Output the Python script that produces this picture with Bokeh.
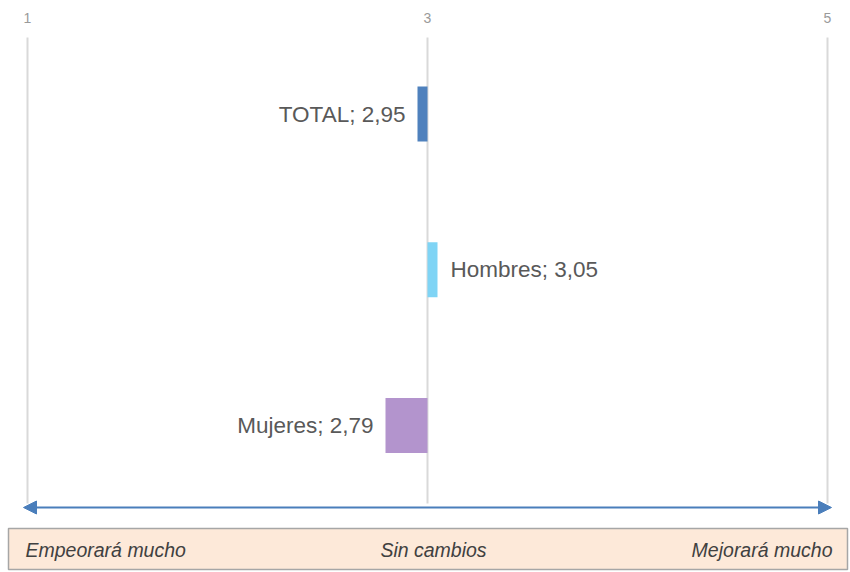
from bokeh.plotting import figure
from bokeh.models import ColumnDataSource, Arrow, NormalHead, Range1d
from bokeh.core.properties import value
from bokeh.embed import file_html
from bokeh.resources import INLINE

# ---- data ----
categories = ["TOTAL", "Hombres", "Mujeres"]
scores = [2.95, 3.05, 2.79]
colors = ["#4f81bd", "#7fd4f5", "#b394cd"]
tick_values = [1, 3, 5]
tick_labels = ["1", "3", "5"]
scale_labels = ["Empeorará mucho", "Sin cambios", "Mejorará mucho"]
midpoint = 3

W, H = 850, 572
PAGE_OFF = 0
PX_PER_UNIT_Y = 155.75
Y_TOP = 3 + (113.5 - PAGE_OFF) / PX_PER_UNIT_Y


def py(page_y):
    """page pixel y -> data y"""
    return Y_TOP - (page_y - PAGE_OFF) / PX_PER_UNIT_Y


X0 = 1 - (27 - PAGE_OFF) / 200.0
x_range = Range1d(X0, X0 + W / 200.0)
y_range = Range1d(Y_TOP - H / PX_PER_UNIT_Y, Y_TOP)

p = figure(width=W, height=H, x_range=x_range, y_range=y_range,
           output_backend="svg", toolbar_location=None,
           x_axis_type=None, y_axis_type=None, min_border=0)
p.outline_line_color = None
p.grid.visible = False
p.background_fill_color = "white"

# positions of categories (top to bottom)
ypos = [len(categories) - i for i in range(len(categories))]

# vertical grid lines
p.segment(x0=tick_values, x1=tick_values,
          y0=[py(37)] * 3, y1=[py(503)] * 3,
          line_color="#d9d9d9", line_width=2)

# top tick labels
p.text(x=tick_values, y=[py(17)] * 3, text=tick_labels,
       text_align="center", text_baseline="middle",
       text_font=value("Liberation Sans"), text_font_size="14px",
       text_color="#9a9a9a")

# bars
src = ColumnDataSource(dict(
    y=ypos, left=[midpoint] * 3, right=scores, color=colors,
    label=[f"{c}; {v:.2f}".replace(".", ",") for c, v in zip(categories, scores)],
    align=["right" if v < midpoint else "left" for v in scores],
    xoff=[-12 if v < midpoint else 13 for v in scores],
))
p.hbar(y="y", left="left", right="right", height=55 / PX_PER_UNIT_Y,
       fill_color="color", line_color=None, source=src)
p.text(x="right", y="y", text="label", x_offset="xoff", text_align="align",
       text_baseline="middle", text_font=value("Liberation Sans"),
       text_font_size="22.5px", text_color="#595959", source=src)

# double arrow
p.add_layout(Arrow(x_start=tick_values[0] - 0.02, x_end=tick_values[-1] + 0.02,
                   y_start=py(507), y_end=py(507),
                   start=NormalHead(size=13, fill_color="#4a7ebb", line_color="#4a7ebb"),
                   end=NormalHead(size=13, fill_color="#4a7ebb", line_color="#4a7ebb"),
                   line_color="#4a7ebb", line_width=2))

# bottom box
p.quad(left=[X0 + (8 - PAGE_OFF) / 200.0], right=[X0 + (847 - PAGE_OFF) / 200.0],
       top=[py(528)], bottom=[py(569)],
       fill_color="#fde9d9", line_color="#a6a6a6", line_width=1.5)
p.text(x=[tick_values[0] - 0.01, midpoint + 0.03, tick_values[-1] + 0.025],
       y=[py(549)] * 3, text=scale_labels,
       text_align=["left", "center", "right"], text_baseline="middle",
       text_font=value("Liberation Sans"), text_font_style="italic",
       text_font_size="19.5px", text_color="#404040")

open("out.html", "w").write(file_html(p, INLINE))
